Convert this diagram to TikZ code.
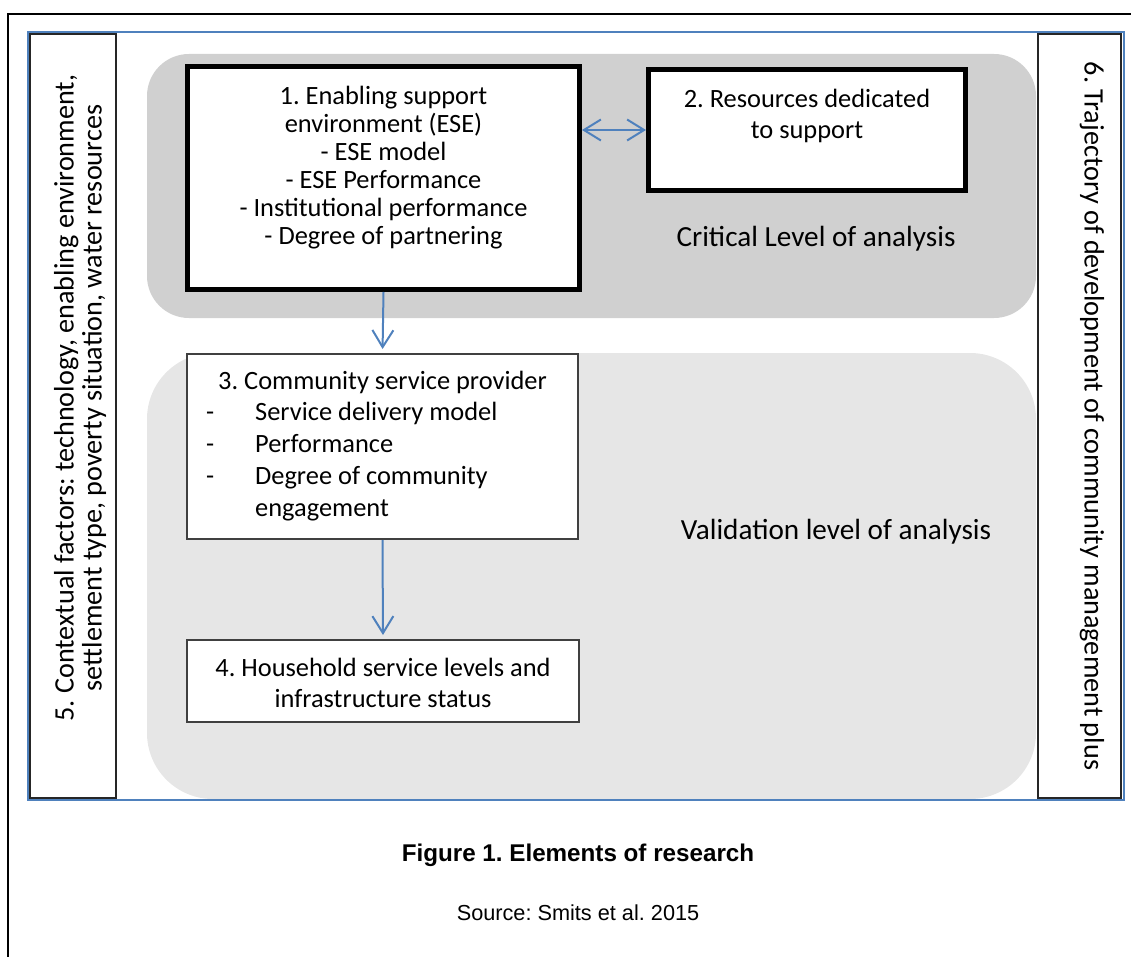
\documentclass[tikz,border=0pt]{standalone}
\usepackage{fontspec}
\setmainfont{Carlito}
\newfontfamily\arialfont{Liberation Sans}
\usetikzlibrary{arrows.meta}
\frenchspacing
\definecolor{darkgrayfill}{HTML}{D0D0D0}
\definecolor{lightgrayfill}{HTML}{E6E6E6}
\definecolor{wordblue}{HTML}{4F81BD}
\definecolor{boxgray}{HTML}{404040}
\tikzset{
  bodyfont/.style={font=\fontsize{26.4}{28}\selectfont},
  sidefont/.style={font=\fontsize{28.2}{28}\selectfont},
  levelfont/.style={font=\fontsize{29.2}{34}\selectfont},
  thickbox/.style={draw=black, line width=5pt, fill=white, inner sep=0pt, rectangle},
  thinbox/.style={draw=boxgray, line width=2pt, fill=white, inner sep=0pt, rectangle},
  sidebox/.style={draw=black!85, line width=2pt, fill=white, inner sep=0pt, rectangle},
  txt/.style={inner sep=0pt, align=center},
  flow/.style={draw=wordblue, line width=2pt, -{Straight Barb[length=17pt,width=21pt,line width=2pt]}},
  both/.style={draw=wordblue, line width=2pt, {Straight Barb[length=17pt,width=21pt,line width=2pt]}-{Straight Barb[length=17pt,width=21pt,line width=2pt]}},
}
\begin{document}
\begin{tikzpicture}[x=1pt,y=-1pt]
\useasboundingbox (0,0) rectangle (1131,957);
% outer page border
\draw[line width=2.5pt] (8,957) -- (8,14) -- (1131,14);
% side boxes
\node[sidebox, minimum width=86pt, minimum height=764pt] (b5) at (73,416) {};
\node[sidebox, minimum width=83pt, minimum height=764pt] (b6) at (1079.5,416) {};
% level backgrounds
\fill[darkgrayfill, rounded corners=42pt] (147,54) rectangle (1036,318);
\fill[lightgrayfill, rounded corners=66pt] (147,353) rectangle (1036,799);
% blue frame
\draw[wordblue, line width=2pt] (28,32) rectangle (1124,800);
% boxes
\node[thickbox, minimum width=392pt, minimum height=223pt] (b1) at (383.5,178) {};
\node[thickbox, minimum width=317pt, minimum height=121pt] (b2) at (807,130) {};
\node[thinbox, minimum width=391pt, minimum height=185pt] (b3) at (382.5,446.5) {};
\node[thinbox, minimum width=392pt, minimum height=82pt] (b4) at (383,681) {};
% texts
\node[txt, bodyfont] (t1) at (383.5,168) {1. Enabling support\\environment (ESE)\\- ESE model\\- ESE Performance\\- Institutional performance\\- Degree of partnering};
\node[txt, font=\fontsize{26.4}{31.5}\selectfont] (t2) at (807,116) {2. Resources dedicated\\to support};
\node[txt, levelfont, anchor=base] (crit) at (816,247) {Critical Level of analysis};
\node[txt, bodyfont, anchor=base] (t3) at (382.5,389) {3. Community service provider};
\node[inner sep=0pt, align=left, anchor=west, font=\fontsize{26.4}{32}\selectfont] (t3list) at (206,462) {\makebox[49pt][l]{-}Service delivery model\\\makebox[49pt][l]{-}Performance\\\makebox[49pt][l]{-}Degree of community\\\hspace*{49pt}engagement};
\node[txt, font=\fontsize{26.4}{31}\selectfont] (t4) at (383,683) {4. Household service levels and\\infrastructure status};
\node[txt, levelfont, anchor=base] (valid) at (836,539) {Validation level of analysis};
\node[txt, sidefont, rotate=90] (t5) at (80,398) {5. Contextual factors: technology, enabling environment,\\settlement type, poverty situation, water resources};
\node[txt, sidefont, rotate=-90] (t6) at (1092,416) {6. Trajectory of development of community management plus};
% connectors
\draw[both] (b2.west -| b1.east) -- (b2.west);
\draw[flow, shorten >=4pt] (b1.south) -- (b3.north);
\draw[flow, shorten >=4pt] (b3.south) -- (b4.north);
% caption
\node[inner sep=0pt, anchor=base, font=\arialfont\bfseries\fontsize{24.2}{28}\selectfont] (cap) at (578,861) {Figure 1. Elements of research};
\node[inner sep=0pt, anchor=base, font=\arialfont\fontsize{21.7}{26}\selectfont] (src) at (578,920) {Source: Smits et al. 2015};
\end{tikzpicture}
\end{document}
